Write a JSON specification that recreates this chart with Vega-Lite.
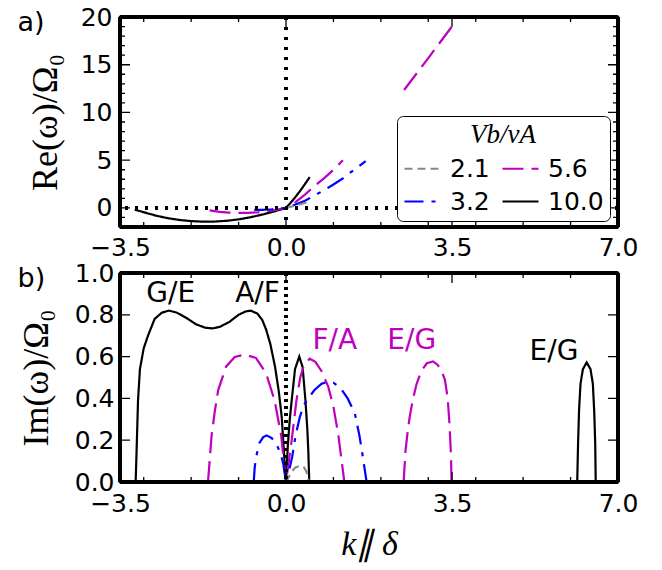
{
  "$schema": "https://vega.github.io/schema/vega-lite/v6.json",
  "padding": {"left": 15, "top": 3, "right": 5, "bottom": 5},
  "spacing": -3,
  "datasets": {
    "re": [
      {"V":"10.0","s":1,"k":-3.19,"w":-0.18},{"V":"10.0","s":1,"k":-3.0,"w":-0.45},{"V":"10.0","s":1,"k":-2.75,"w":-0.8},{"V":"10.0","s":1,"k":-2.5,"w":-1.07},{"V":"10.0","s":1,"k":-2.25,"w":-1.26},{"V":"10.0","s":1,"k":-2.0,"w":-1.38},{"V":"10.0","s":1,"k":-1.75,"w":-1.44},{"V":"10.0","s":1,"k":-1.5,"w":-1.43},{"V":"10.0","s":1,"k":-1.25,"w":-1.35},{"V":"10.0","s":1,"k":-1.0,"w":-1.2},{"V":"10.0","s":1,"k":-0.75,"w":-0.98},{"V":"10.0","s":1,"k":-0.5,"w":-0.7},{"V":"10.0","s":1,"k":-0.25,"w":-0.37},{"V":"10.0","s":1,"k":0,"w":0},{"V":"10.0","s":1,"k":0.1,"w":0.55},{"V":"10.0","s":1,"k":0.2,"w":1.15},{"V":"10.0","s":1,"k":0.3,"w":1.8},{"V":"10.0","s":1,"k":0.4,"w":2.5},{"V":"10.0","s":1,"k":0.5,"w":3.22},
      {"V":"5.6","s":1,"k":-1.61,"w":-0.25},{"V":"5.6","s":1,"k":-1.4,"w":-0.42},{"V":"5.6","s":1,"k":-1.2,"w":-0.5},{"V":"5.6","s":1,"k":-1.0,"w":-0.53},{"V":"5.6","s":1,"k":-0.8,"w":-0.52},{"V":"5.6","s":1,"k":-0.6,"w":-0.46},{"V":"5.6","s":1,"k":-0.4,"w":-0.35},{"V":"5.6","s":1,"k":-0.2,"w":-0.19},{"V":"5.6","s":1,"k":0,"w":0},{"V":"5.6","s":1,"k":0.2,"w":0.6},{"V":"5.6","s":1,"k":0.4,"w":1.4},{"V":"5.6","s":1,"k":0.6,"w":2.3},{"V":"5.6","s":1,"k":0.8,"w":3.1},{"V":"5.6","s":1,"k":1.0,"w":4.0},{"V":"5.6","s":1,"k":1.2,"w":5.0},
      {"V":"5.6","s":2,"k":2.49,"w":12.35},{"V":"5.6","s":2,"k":3.0,"w":15.7},{"V":"5.6","s":2,"k":3.49,"w":18.95},
      {"V":"3.2","s":1,"k":-0.67,"w":-0.2},{"V":"3.2","s":1,"k":-0.5,"w":-0.2},{"V":"3.2","s":1,"k":-0.3,"w":-0.14},{"V":"3.2","s":1,"k":-0.15,"w":-0.07},{"V":"3.2","s":1,"k":0,"w":0},{"V":"3.2","s":1,"k":0.2,"w":0.35},{"V":"3.2","s":1,"k":0.4,"w":0.75},{"V":"3.2","s":1,"k":0.6,"w":1.3},{"V":"3.2","s":1,"k":0.8,"w":1.85},{"V":"3.2","s":1,"k":1.0,"w":2.45},{"V":"3.2","s":1,"k":1.2,"w":3.1},{"V":"3.2","s":1,"k":1.45,"w":4.05},{"V":"3.2","s":1,"k":1.68,"w":4.9},
      {"V":"2.1","s":1,"k":0,"w":0},{"V":"2.1","s":1,"k":0.25,"w":0.3},{"V":"2.1","s":1,"k":0.52,"w":0.7}
    ],
    "im": [
      {"V":"10.0","s":1,"k":-3.17,"w":0},{"V":"10.0","s":1,"k":-3.15,"w":0.15},{"V":"10.0","s":1,"k":-3.12,"w":0.39},{"V":"10.0","s":1,"k":-3.08,"w":0.54},{"V":"10.0","s":1,"k":-3.0,"w":0.64},{"V":"10.0","s":1,"k":-2.91,"w":0.70},{"V":"10.0","s":1,"k":-2.77,"w":0.78},{"V":"10.0","s":1,"k":-2.62,"w":0.81},{"V":"10.0","s":1,"k":-2.47,"w":0.82},{"V":"10.0","s":1,"k":-2.3,"w":0.81},{"V":"10.0","s":1,"k":-2.1,"w":0.785},{"V":"10.0","s":1,"k":-1.9,"w":0.755},{"V":"10.0","s":1,"k":-1.7,"w":0.738},{"V":"10.0","s":1,"k":-1.55,"w":0.735},{"V":"10.0","s":1,"k":-1.4,"w":0.742},{"V":"10.0","s":1,"k":-1.2,"w":0.765},{"V":"10.0","s":1,"k":-1.0,"w":0.8},{"V":"10.0","s":1,"k":-0.85,"w":0.816},{"V":"10.0","s":1,"k":-0.74,"w":0.82},{"V":"10.0","s":1,"k":-0.6,"w":0.805},{"V":"10.0","s":1,"k":-0.5,"w":0.775},{"V":"10.0","s":1,"k":-0.42,"w":0.73},{"V":"10.0","s":1,"k":-0.33,"w":0.66},{"V":"10.0","s":1,"k":-0.23,"w":0.55},{"V":"10.0","s":1,"k":-0.15,"w":0.43},{"V":"10.0","s":1,"k":-0.09,"w":0.31},{"V":"10.0","s":1,"k":-0.04,"w":0.13},{"V":"10.0","s":1,"k":0,"w":0},{"V":"10.0","s":1,"k":0.04,"w":0.18},{"V":"10.0","s":1,"k":0.08,"w":0.3},{"V":"10.0","s":1,"k":0.12,"w":0.39},{"V":"10.0","s":1,"k":0.19,"w":0.54},{"V":"10.0","s":1,"k":0.28,"w":0.6},{"V":"10.0","s":1,"k":0.35,"w":0.55},{"V":"10.0","s":1,"k":0.41,"w":0.39},{"V":"10.0","s":1,"k":0.45,"w":0.25},{"V":"10.0","s":1,"k":0.47,"w":0.15},{"V":"10.0","s":1,"k":0.49,"w":0},
      {"V":"10.0","s":2,"k":6.14,"w":0},{"V":"10.0","s":2,"k":6.16,"w":0.2},{"V":"10.0","s":2,"k":6.18,"w":0.35},{"V":"10.0","s":2,"k":6.21,"w":0.47},{"V":"10.0","s":2,"k":6.26,"w":0.54},{"V":"10.0","s":2,"k":6.34,"w":0.572},{"V":"10.0","s":2,"k":6.42,"w":0.54},{"V":"10.0","s":2,"k":6.47,"w":0.47},{"V":"10.0","s":2,"k":6.5,"w":0.33},{"V":"10.0","s":2,"k":6.52,"w":0.18},{"V":"10.0","s":2,"k":6.53,"w":0},
      {"V":"5.6","s":1,"k":-1.645,"w":0},{"V":"5.6","s":1,"k":-1.6,"w":0.13},{"V":"5.6","s":1,"k":-1.57,"w":0.22},{"V":"5.6","s":1,"k":-1.5,"w":0.34},{"V":"5.6","s":1,"k":-1.43,"w":0.44},{"V":"5.6","s":1,"k":-1.26,"w":0.553},{"V":"5.6","s":1,"k":-1.08,"w":0.598},{"V":"5.6","s":1,"k":-0.87,"w":0.61},{"V":"5.6","s":1,"k":-0.63,"w":0.593},{"V":"5.6","s":1,"k":-0.42,"w":0.52},{"V":"5.6","s":1,"k":-0.24,"w":0.39},{"V":"5.6","s":1,"k":-0.1,"w":0.22},{"V":"5.6","s":1,"k":0,"w":0},{"V":"5.6","s":1,"k":0.06,"w":0.1},{"V":"5.6","s":1,"k":0.12,"w":0.2},{"V":"5.6","s":1,"k":0.22,"w":0.39},{"V":"5.6","s":1,"k":0.3,"w":0.5},{"V":"5.6","s":1,"k":0.38,"w":0.56},{"V":"5.6","s":1,"k":0.5,"w":0.59},{"V":"5.6","s":1,"k":0.62,"w":0.575},{"V":"5.6","s":1,"k":0.75,"w":0.53},{"V":"5.6","s":1,"k":0.89,"w":0.457},{"V":"5.6","s":1,"k":1.0,"w":0.36},{"V":"5.6","s":1,"k":1.1,"w":0.23},{"V":"5.6","s":1,"k":1.17,"w":0.107},{"V":"5.6","s":1,"k":1.23,"w":0},
      {"V":"5.6","s":2,"k":2.48,"w":0},{"V":"5.6","s":2,"k":2.52,"w":0.15},{"V":"5.6","s":2,"k":2.57,"w":0.25},{"V":"5.6","s":2,"k":2.61,"w":0.314},{"V":"5.6","s":2,"k":2.68,"w":0.4},{"V":"5.6","s":2,"k":2.75,"w":0.466},{"V":"5.6","s":2,"k":2.85,"w":0.53},{"V":"5.6","s":2,"k":2.97,"w":0.568},{"V":"5.6","s":2,"k":3.1,"w":0.577},{"V":"5.6","s":2,"k":3.2,"w":0.56},{"V":"5.6","s":2,"k":3.28,"w":0.53},{"V":"5.6","s":2,"k":3.35,"w":0.49},{"V":"5.6","s":2,"k":3.41,"w":0.4},{"V":"5.6","s":2,"k":3.45,"w":0.266},{"V":"5.6","s":2,"k":3.48,"w":0.12},{"V":"5.6","s":2,"k":3.49,"w":0},
      {"V":"3.2","s":1,"k":-0.68,"w":0},{"V":"3.2","s":1,"k":-0.66,"w":0.07},{"V":"3.2","s":1,"k":-0.63,"w":0.12},{"V":"3.2","s":1,"k":-0.56,"w":0.187},{"V":"3.2","s":1,"k":-0.48,"w":0.215},{"V":"3.2","s":1,"k":-0.41,"w":0.223},{"V":"3.2","s":1,"k":-0.3,"w":0.21},{"V":"3.2","s":1,"k":-0.2,"w":0.18},{"V":"3.2","s":1,"k":-0.12,"w":0.14},{"V":"3.2","s":1,"k":-0.06,"w":0.09},{"V":"3.2","s":1,"k":0,"w":0},{"V":"3.2","s":1,"k":0.07,"w":0.06},{"V":"3.2","s":1,"k":0.13,"w":0.12},{"V":"3.2","s":1,"k":0.2,"w":0.22},{"V":"3.2","s":1,"k":0.29,"w":0.31},{"V":"3.2","s":1,"k":0.38,"w":0.37},{"V":"3.2","s":1,"k":0.47,"w":0.4},{"V":"3.2","s":1,"k":0.6,"w":0.44},{"V":"3.2","s":1,"k":0.75,"w":0.47},{"V":"3.2","s":1,"k":0.9,"w":0.48},{"V":"3.2","s":1,"k":1.0,"w":0.475},{"V":"3.2","s":1,"k":1.15,"w":0.45},{"V":"3.2","s":1,"k":1.3,"w":0.4},{"V":"3.2","s":1,"k":1.45,"w":0.33},{"V":"3.2","s":1,"k":1.55,"w":0.22},{"V":"3.2","s":1,"k":1.62,"w":0.12},{"V":"3.2","s":1,"k":1.68,"w":0.03},{"V":"3.2","s":1,"k":1.7,"w":0},
      {"V":"2.1","s":1,"k":0,"w":0},{"V":"2.1","s":1,"k":0.05,"w":0.02},{"V":"2.1","s":1,"k":0.12,"w":0.05},{"V":"2.1","s":1,"k":0.2,"w":0.07},{"V":"2.1","s":1,"k":0.3,"w":0.078},{"V":"2.1","s":1,"k":0.38,"w":0.07},{"V":"2.1","s":1,"k":0.43,"w":0.05},{"V":"2.1","s":1,"k":0.46,"w":0.025},{"V":"2.1","s":1,"k":0.48,"w":0}
    ],
    "ann": [
      {"k":-2.43,"w":0.9,"t":"G/E","V":"10.0"},
      {"k":-0.6,"w":0.9,"t":"A/F","V":"10.0"},
      {"k":1.03,"w":0.676,"t":"F/A","V":"5.6"},
      {"k":2.65,"w":0.676,"t":"E/G","V":"5.6"},
      {"k":5.65,"w":0.62,"t":"E/G","V":"10.0"}
    ],
    "xmin": [{"k":-3},{"k":-2},{"k":-1},{"k":1},{"k":2},{"k":3},{"k":4},{"k":5},{"k":6}],
    "xmaj": [{"k":0},{"k":3.5}],
    "ymin_a": [{"w":-1},{"w":1},{"w":2},{"w":3},{"w":4},{"w":6},{"w":7},{"w":8},{"w":9},{"w":11},{"w":12},{"w":13},{"w":14},{"w":16},{"w":17},{"w":18},{"w":19}],
    "ymaj_a": [{"w":0},{"w":5},{"w":10},{"w":15}],
    "ymaj_b": [{"w":0.2},{"w":0.4},{"w":0.6},{"w":0.8}]
  },
  "resolve": {"scale": {"color": "independent", "strokeDash": "independent"}, "legend": {"color": "independent", "strokeDash": "independent"}},
  "vconcat": [
    {
      "width": 498,
      "height": 210,
      "data": {"name": "re"},
      "resolve": {"axis": {"x": "independent", "y": "independent"}},
      "layer": [
        {
          "mark": {"type": "line", "strokeWidth": 2.2},
          "encoding": {
            "x": {"field": "k", "type": "quantitative", "scale": {"domain": [-3.5, 7], "nice": false, "zero": false},
              "axis": {"orient": "bottom", "title": null, "values": [-3.5,0,3.5,7], "ticks": false,
                "labelExpr": "datum.value == -3.5 ? '−3.5' : datum.value == 0 ? '0.0' : datum.value == 3.5 ? '3.5' : '7.0'",
                "labelPadding": 8, "labelFlush": false, "labelOverlap": false, "labelBound": false}},
            "y": {"field": "w", "type": "quantitative", "scale": {"domain": [-2, 20], "nice": false, "zero": false},
              "axis": {"orient": "left", "title": "Re(ω)/Ω₀", "titleFontSize": 36, "values": [0,5,10,15,20], "format": "d", "ticks": false,
                "labelPadding": 8, "labelOverlap": false, "labelBound": false, "titlePadding": 16}},
            "color": {"field": "V", "type": "nominal", "scale": {"domain": ["2.1","3.2","5.6","10.0"], "range": ["#888888","#0000ff","#bf00bf","#000000"]},
              "legend": {"orient": "none", "legendX": 277, "legendY": 99, "columns": 2, "title": "Vb/vA", "titleFont": "Liberation Serif", "titleFontStyle": "italic", "titleFontWeight": "normal", "titleFontSize": 27, "titleAnchor": "middle", "titleColor": "black", "titlePadding": 0, "labelFont": "DejaVu Sans", "labelFontSize": 25, "labelColor": "black", "symbolType": "stroke", "symbolSize": 1296, "symbolStrokeWidth": 2.2, "columnPadding": 8, "rowPadding": 0, "padding": 6, "strokeColor": "black", "fillColor": "white", "cornerRadius": 6, "labelOffset": 8}},
            "strokeDash": {"field": "V", "type": "nominal", "scale": {"domain": ["2.1","3.2","5.6","10.0"], "range": [[8,5],[19,8,4,8],[21,8],[1,0]]},
              "legend": {"orient": "none", "legendX": 277, "legendY": 99, "columns": 2, "title": "Vb/vA", "titleFont": "Liberation Serif", "titleFontStyle": "italic", "titleFontWeight": "normal", "titleFontSize": 27, "titleAnchor": "middle", "titleColor": "black", "titlePadding": 0, "labelFont": "DejaVu Sans", "labelFontSize": 25, "labelColor": "black", "symbolType": "stroke", "symbolSize": 1296, "symbolStrokeWidth": 2.2, "columnPadding": 8, "rowPadding": 0, "padding": 6, "strokeColor": "black", "fillColor": "white", "cornerRadius": 6, "labelOffset": 8}},
            "detail": {"field": "s", "type": "nominal"}
          }
        },
        {
          "mark": {"type": "point", "opacity": 0},
          "encoding": {
            "x": {"field": "k", "type": "quantitative", "scale": {"domain": [-3.5, 7], "nice": false, "zero": false},
              "axis": {"orient": "top", "values": [0], "ticks": false, "labels": false,
                "title": "a)", "titleX": -103, "titleY": 13.4, "titleAngle": 0, "titleAlign": "left", "titleBaseline": "alphabetic", "titleFont": "DejaVu Sans", "titleFontSize": 27}},
            "y": {"field": "w", "type": "quantitative", "scale": {"domain": [-2, 20], "nice": false, "zero": false},
              "axis": {"orient": "right", "title": null, "labels": false, "ticks": false, "values": [0]}}
          }
        },
        {
          "data": {"name": "xmin"},
          "mark": {"type": "rule", "color": "black", "strokeWidth": 1.3, "strokeDash": [5, 200]},
          "encoding": {"x": {"field": "k", "type": "quantitative", "axis": null}}
        },
        {
          "data": {"name": "xmaj"},
          "mark": {"type": "rule", "color": "black", "strokeWidth": 1.3, "strokeDash": [10, 190]},
          "encoding": {"x": {"field": "k", "type": "quantitative", "axis": null}}
        },
        {
          "data": {"name": "ymin_a"},
          "mark": {"type": "rule", "color": "black", "strokeWidth": 1.3, "strokeDash": [5, 488]},
          "encoding": {"y": {"field": "w", "type": "quantitative", "axis": null}}
        },
        {
          "data": {"name": "ymaj_a"},
          "mark": {"type": "rule", "color": "black", "strokeWidth": 1.3, "strokeDash": [10, 478]},
          "encoding": {"y": {"field": "w", "type": "quantitative", "axis": null}}
        },
        {
          "mark": {"type": "rule", "color": "black", "strokeWidth": 2.5, "strokeDash": [2.5, 7.5]},
          "encoding": {"x": {"datum": 0, "type": "quantitative", "axis": null}}
        },
        {
          "mark": {"type": "rule", "color": "black", "strokeWidth": 2.5, "strokeDash": [2.5, 7.5]},
          "encoding": {"y": {"datum": 0, "type": "quantitative", "axis": null}}
        },
        {
          "mark": {"type": "rule", "color": "black", "strokeWidth": 2.3},
          "encoding": {"y": {"datum": 20, "type": "quantitative", "axis": null}}
        },
        {
          "mark": {"type": "rule", "color": "black", "strokeWidth": 2.3},
          "encoding": {"x": {"datum": 7, "type": "quantitative", "axis": null}}
        },
        {
          "mark": {"type": "rule", "color": "black", "strokeWidth": 2.3},
          "encoding": {"y": {"datum": -2, "type": "quantitative", "axis": null}}
        },
        {
          "mark": {"type": "rule", "color": "black", "strokeWidth": 2.3},
          "encoding": {"x": {"datum": -3.5, "type": "quantitative", "axis": null}}
        }
      ]
    },
    {
      "width": 498,
      "height": 209,
      "data": {"name": "im"},
      "resolve": {"axis": {"x": "independent", "y": "independent"}},
      "layer": [
        {
          "mark": {"type": "line", "strokeWidth": 2.2},
          "encoding": {
            "x": {"field": "k", "type": "quantitative", "scale": {"domain": [-3.5, 7], "nice": false, "zero": false},
              "axis": {"orient": "bottom", "title": "k∥ δ", "titleFont": "Liberation Serif", "titleFontStyle": "italic", "titleFontSize": 34, "titlePadding": 11, "values": [-3.5,0,3.5,7], "ticks": false,
                "labelExpr": "datum.value == -3.5 ? '−3.5' : datum.value == 0 ? '0.0' : datum.value == 3.5 ? '3.5' : '7.0'",
                "labelPadding": 9, "labelFlush": false, "labelOverlap": false, "labelBound": false}},
            "y": {"field": "w", "type": "quantitative", "scale": {"domain": [0, 1], "nice": false, "zero": false},
              "axis": {"orient": "left", "title": "Im(ω)/Ω₀", "titleFontSize": 36, "values": [0,0.2,0.4,0.6,0.8,1.0], "format": ".1f", "ticks": false,
                "labelPadding": 6, "labelOverlap": false, "labelBound": false, "titlePadding": 19}},
            "color": {"field": "V", "type": "nominal", "scale": {"domain": ["2.1","3.2","5.6","10.0"], "range": ["#888888","#0000ff","#bf00bf","#000000"]}, "legend": null},
            "strokeDash": {"field": "V", "type": "nominal", "scale": {"domain": ["2.1","3.2","5.6","10.0"], "range": [[8,5],[19,8,4,8],[21,8],[1,0]]}, "legend": null},
            "detail": {"field": "s", "type": "nominal"}
          }
        },
        {
          "mark": {"type": "point", "opacity": 0},
          "encoding": {
            "x": {"field": "k", "type": "quantitative", "scale": {"domain": [-3.5, 7], "nice": false, "zero": false},
              "axis": {"orient": "top", "values": [0], "ticks": false, "labels": false,
                "title": "b)", "titleX": -103, "titleY": 13.4, "titleAngle": 0, "titleAlign": "left", "titleBaseline": "alphabetic", "titleFont": "DejaVu Sans", "titleFontSize": 27}},
            "y": {"field": "w", "type": "quantitative", "scale": {"domain": [0, 1], "nice": false, "zero": false},
              "axis": {"orient": "right", "title": null, "labels": false, "ticks": false, "values": [0]}}
          }
        },
        {
          "data": {"name": "xmin"},
          "mark": {"type": "rule", "color": "black", "strokeWidth": 1.3, "strokeDash": [5, 199]},
          "encoding": {"x": {"field": "k", "type": "quantitative", "axis": null}}
        },
        {
          "data": {"name": "xmaj"},
          "mark": {"type": "rule", "color": "black", "strokeWidth": 1.3, "strokeDash": [10, 189]},
          "encoding": {"x": {"field": "k", "type": "quantitative", "axis": null}}
        },
        {
          "data": {"name": "ymaj_b"},
          "mark": {"type": "rule", "color": "black", "strokeWidth": 1.3, "strokeDash": [10, 478]},
          "encoding": {"y": {"field": "w", "type": "quantitative", "axis": null}}
        },
        {
          "mark": {"type": "rule", "color": "black", "strokeWidth": 2.5, "strokeDash": [2.5, 4.5]},
          "encoding": {"x": {"datum": 0, "type": "quantitative", "axis": null}}
        },
        {
          "mark": {"type": "rule", "color": "black", "strokeWidth": 2.3},
          "encoding": {"y": {"datum": 1, "type": "quantitative", "axis": null}}
        },
        {
          "mark": {"type": "rule", "color": "black", "strokeWidth": 2.3},
          "encoding": {"x": {"datum": 7, "type": "quantitative", "axis": null}}
        },
        {
          "mark": {"type": "rule", "color": "black", "strokeWidth": 2.3},
          "encoding": {"y": {"datum": 0, "type": "quantitative", "axis": null}}
        },
        {
          "mark": {"type": "rule", "color": "black", "strokeWidth": 2.3},
          "encoding": {"x": {"datum": -3.5, "type": "quantitative", "axis": null}}
        },
        {
          "data": {"name": "ann"},
          "mark": {"type": "text", "font": "DejaVu Sans", "fontSize": 28, "align": "center", "baseline": "middle"},
          "encoding": {
            "x": {"field": "k", "type": "quantitative", "axis": null},
            "y": {"field": "w", "type": "quantitative", "axis": null},
            "text": {"field": "t"},
            "color": {"field": "V", "type": "nominal", "legend": null}
          }
        }
      ]
    }
  ],
  "config": {
    "view": {"stroke": "black", "strokeWidth": 2.3},
    "font": "DejaVu Sans",
    "axis": {"domain": false, "grid": false, "ticks": false, "labelFont": "DejaVu Sans", "labelFontSize": 25, "labelColor": "black", "zindex": 1, "titleColor": "black", "titleFontWeight": "normal", "titleFont": "Liberation Serif", "titleFontSize": 34}
  }
}
